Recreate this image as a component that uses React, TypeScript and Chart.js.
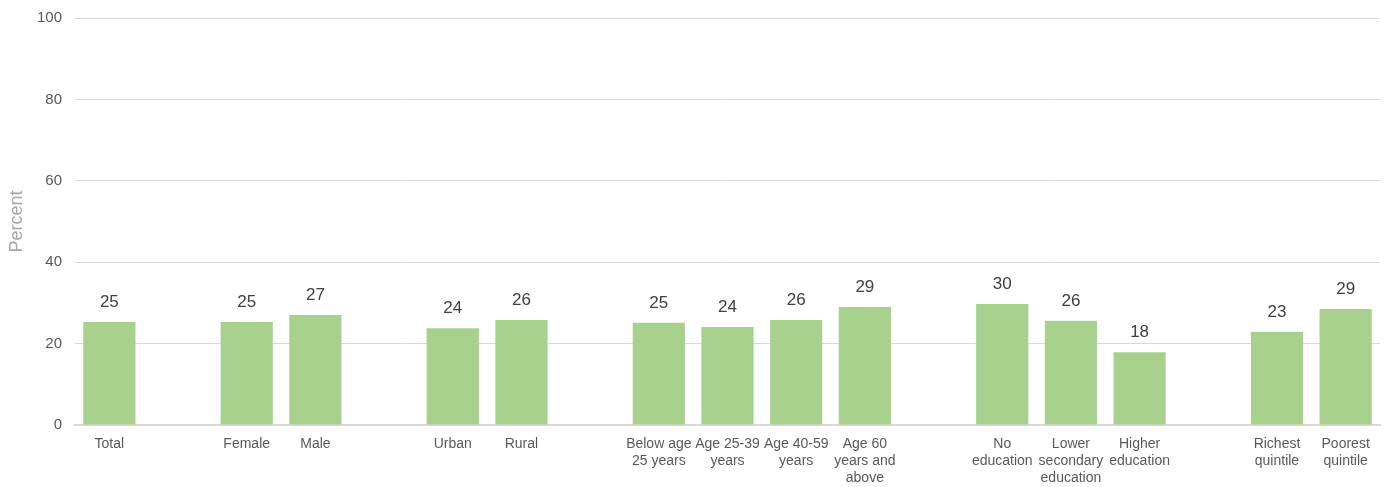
import React, { useEffect, useRef } from "react";
import { Chart, registerables } from "chart.js";

Chart.register(...registerables);

const categories: (string | string[])[] = [
  "Total",
  "",
  "Female",
  "Male",
  "",
  "Urban",
  "Rural",
  "",
  ["Below age", "25 years"],
  ["Age 25-39", "years"],
  ["Age 40-59", "years"],
  ["Age 60", "years and", "above"],
  "",
  ["No", "education"],
  ["Lower", "secondary", "education"],
  ["Higher", "education"],
  "",
  ["Richest", "quintile"],
  ["Poorest", "quintile"],
];

const values: (number | null)[] = [
  25.3, null, 25.3, 27.0, null, 23.8, 25.8, null, 25.1, 24.1, 25.8, 29.0, null, 29.7, 25.6, 17.9, null, 22.9, 28.5,
];

const yTicks = [0, 20, 40, 60, 80, 100];

const FONT = "'Liberation Sans', Arial, sans-serif";

const dataLabels = {
  id: "dataLabels",
  afterDatasetsDraw(chart: any) {
    const ctx = chart.ctx;
    const meta = chart.getDatasetMeta(0);
    ctx.save();
    ctx.font = `17px ${FONT}`;
    ctx.fillStyle = "#404040";
    ctx.textAlign = "center";
    ctx.textBaseline = "alphabetic";
    meta.data.forEach((bar: any, i: number) => {
      const v = values[i];
      if (v == null) return;
      ctx.fillText(String(Math.round(v)), bar.x, bar.y - 15);
    });
    ctx.restore();
  },
};

export default function App() {
  const ref = useRef<HTMLCanvasElement>(null);
  useEffect(() => {
    document.body.style.margin = "0";
    const chart = new Chart(ref.current!, {
      type: "bar",
      data: {
        labels: categories,
        datasets: [
          {
            data: values,
            backgroundColor: "#a9d18e",
            barPercentage: 0.76,
            categoryPercentage: 1,
          },
        ],
      },
      plugins: [dataLabels],
      options: {
        animation: false,
        responsive: false,
        layout: { padding: { top: 18, right: 12, left: 0, bottom: 0 } },
        plugins: { legend: { display: false }, tooltip: { enabled: false } },
        scales: {
          x: {
            grid: { display: false, drawTicks: false },
            border: { display: true, color: "#d9d9d9", width: 2 },
            ticks: {
              color: "#595959",
              font: { family: FONT, size: 14 },
              padding: 11,
              maxRotation: 0,
              autoSkip: false,
            },
            afterFit(scale: any) {
              scale.height = 62;
              scale.paddingLeft = 0;
              scale.paddingRight = 0;
            },
          },
          y: {
            min: 0,
            max: 100,
            afterBuildTicks(scale: any) {
              scale.ticks = yTicks.map((v) => ({ value: v }));
            },
            grid: { color: "#d9d9d9", drawTicks: false },
            border: { display: false },
            ticks: {
              color: "#595959",
              font: { family: FONT, size: 15 },
              padding: 13,
            },
            title: {
              display: true,
              text: "Percent",
              color: "#a6a6a6",
              font: { family: FONT, size: 18 },
              padding: { top: 6, bottom: 0 },
            },
            afterFit(scale: any) {
              scale.width = 75;
              scale.paddingTop = 0;
              scale.paddingBottom = 0;
            },
          },
        },
      },
    });
    return () => chart.destroy();
  }, []);
  return (
    <div style={{ width: 1392, height: 487 }}>
      <canvas ref={ref} width={1392} height={487} style={{ display: "block" }} />
    </div>
  );
}
